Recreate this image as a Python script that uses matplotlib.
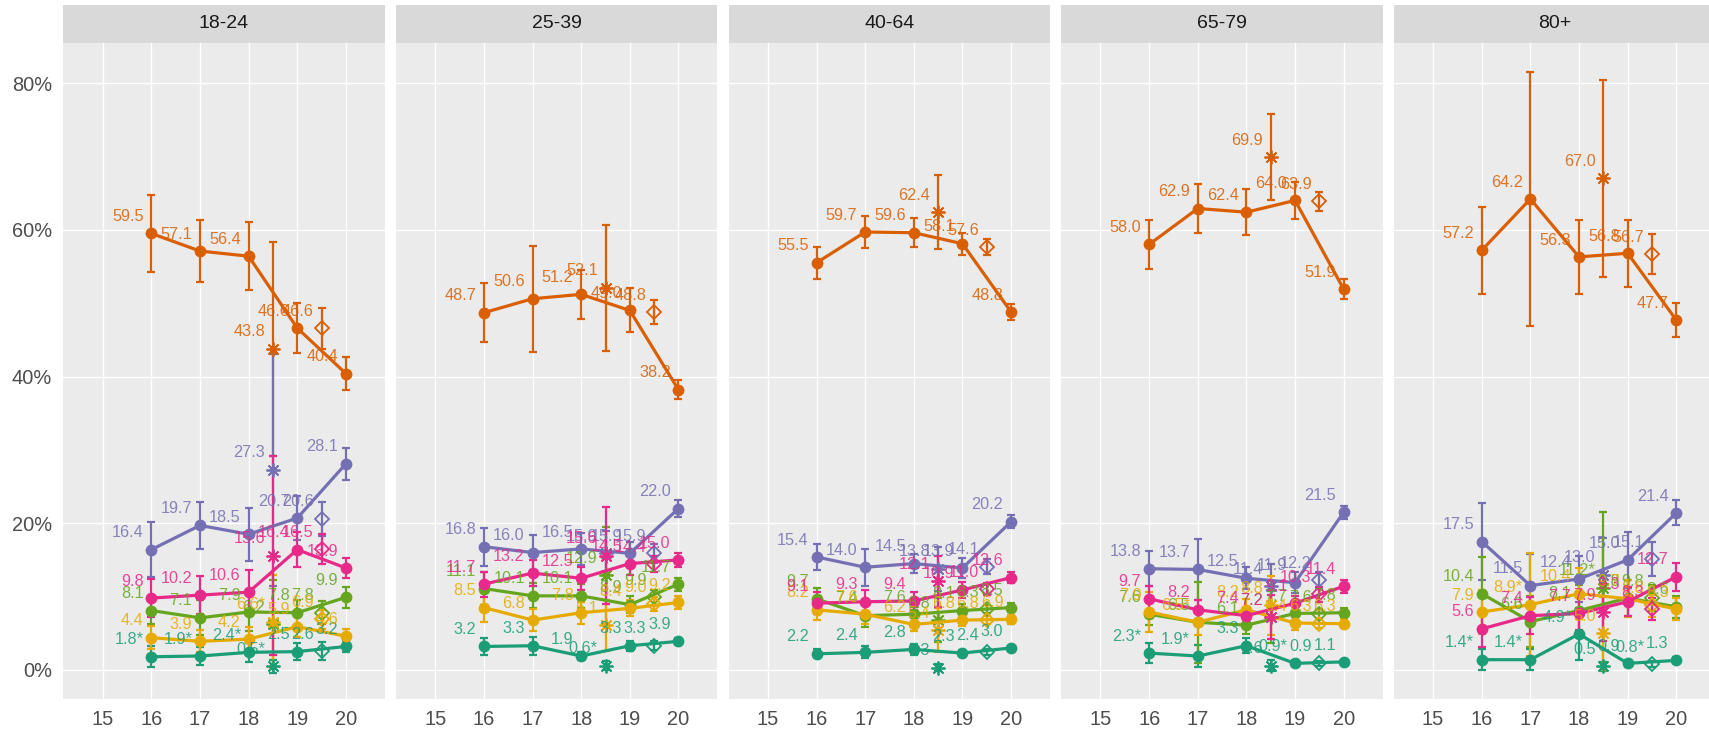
import matplotlib
matplotlib.use("Agg")
import matplotlib.pyplot as plt

plt.rcParams["font.family"] = ["Liberation Sans", "DejaVu Sans"]

groups = ["18-24", "25-39", "40-64", "65-79", "80+"]
years = [16, 17, 18, 19, 20]
x_ast = 18.5   # extra estimate drawn as asterisk
x_dia = 19.5   # extra estimate drawn as open diamond

# values per age group: 5 yearly points, plus the asterisk and diamond estimates
orange_val = [[59.5, 57.1, 56.4, 46.6, 40.4], [48.7, 50.6, 51.2, 49.0, 38.2], [55.5, 59.7, 59.6, 58.1, 48.8],
              [58.0, 62.9, 62.4, 64.0, 51.9], [57.2, 64.2, 56.3, 56.8, 47.7]]
orange_err = [[5.3, 4.2, 4.6, 3.4, 2.3], [4.0, 7.2, 3.3, 3.0, 1.3], [2.2, 2.2, 2.0, 1.5, 1.1],
              [3.4, 3.3, 3.1, 2.5, 1.4], [5.9, 17.3, 5.1, 4.6, 2.3]]
orange_ast = [43.8, 52.1, 62.4, 69.9, 67.0]
orange_ast_err = [14.6, 8.6, 5.0, 5.9, 13.4]
orange_dia = [46.6, 48.8, 57.6, 63.9, 56.7]
orange_dia_err = [2.8, 1.6, 1.1, 1.3, 2.7]

purple_val = [[16.4, 19.7, 18.5, 20.7, 28.1], [16.8, 16.0, 16.5, 15.9, 22.0], [15.4, 14.0, 14.5, 13.9, 20.2],
              [13.8, 13.7, 12.5, 11.9, 21.5], [17.5, 11.5, 12.4, 15.0, 21.4]]
purple_err = [[3.7, 3.2, 3.6, 3.0, 2.2], [2.6, 2.4, 2.2, 1.6, 1.1], [1.8, 2.5, 1.3, 1.3, 0.9],
              [2.4, 4.2, 1.5, 1.4, 0.9], [5.2, 4.3, 3.2, 3.8, 1.7]]
purple_ast = [27.3, 15.9, 13.8, 11.4, 13.0]
purple_ast_err = [15.8, 3.0, 3.0, 3.0, 5.0]
purple_dia = [20.6, 15.9, 14.1, 12.2, 15.1]
purple_dia_err = [2.3, 1.3, 1.0, 1.2, 2.3]

pink_val = [[9.8, 10.2, 10.6, 16.4, 13.9], [11.7, 13.2, 12.5, 14.5, 15.0], [9.1, 9.3, 9.4, 10.9, 12.6],
            [9.7, 8.2, 7.4, 9.1, 11.4], [5.6, 7.4, 7.7, 9.3, 12.7]]
pink_err = [[2.6, 2.6, 3.0, 2.4, 1.4], [1.7, 1.8, 1.6, 1.6, 1.0], [1.5, 1.6, 1.2, 1.1, 0.8],
            [1.7, 1.3, 1.1, 1.0, 0.9], [2.5, 2.5, 2.3, 2.0, 1.9]]
pink_ast = [15.6, 15.6, 12.1, 7.2, 7.9]
pink_ast_err = [13.6, 6.6, 3.5, 3.0, 4.0]
pink_dia = [16.5, 14.4, 11.0, 10.3, 8.3]
pink_dia_err = [2.0, 1.1, 0.8, 1.0, 1.5]

green_val = [[8.1, 7.1, 7.9, 7.8, 9.9], [11.1, 10.1, 10.1, 8.9, 11.7], [9.7, 7.4, 7.6, 8.1, 8.5],
             [7.6, 6.5, 6.1, 7.7, 7.8], [10.4, 6.6, 8.1, 9.8, 8.6]]
green_err = [[1.9, 2.4, 2.6, 1.7, 1.4], [2.2, 1.7, 1.6, 1.2, 0.9], [1.5, 1.5, 1.0, 0.9, 0.6],
             [1.5, 5.5, 1.2, 0.9, 0.6], [5.0, 3.5, 3.5, 2.5, 1.5]]
green_ast = [6.2, 12.9, 6.8, 7.2, 11.2]
green_ast_err = [6.0, 6.6, 3.0, 3.5, 10.3]
green_dia = [7.8, 9.9, 8.3, 7.6, 9.8]
green_dia_err = [1.6, 1.0, 0.6, 0.7, 1.8]

yellow_val = [[4.4, 3.9, 4.2, 5.9, 4.6], [8.5, 6.8, 7.8, 8.4, 9.2], [8.2, 7.6, 6.2, 6.8, 6.9],
              [7.9, 6.5, 8.2, 6.4, 6.3], [7.9, 8.9, 10.4, 9.7, 8.3]]
yellow_err = [[1.6, 1.5, 1.6, 1.4, 1.0], [2.0, 1.5, 1.5, 1.1, 0.9], [1.4, 1.3, 0.9, 0.8, 0.6],
              [2.7, 1.8, 1.5, 0.9, 0.6], [3.0, 7.0, 3.5, 2.5, 1.5]]
yellow_ast = [6.6, 6.1, 5.4, 8.8, 5.0]
yellow_ast_err = [6.4, 3.5, 3.0, 4.0, 5.0]
yellow_dia = [6.9, 9.0, 6.8, 6.3, 8.8]
yellow_dia_err = [1.3, 1.0, 0.6, 0.6, 1.6]

teal_val = [[1.8, 1.9, 2.4, 2.5, 3.2], [3.2, 3.3, 1.9, 3.3, 3.9], [2.2, 2.4, 2.8, 2.3, 3.0],
            [2.3, 1.9, 3.3, 0.9, 1.1], [1.4, 1.4, 4.9, 0.9, 1.3]]
teal_err = [[1.4, 1.2, 1.3, 1.2, 0.8], [1.2, 1.2, 0.6, 0.7, 0.5], [0.6, 0.8, 0.7, 0.4, 0.3],
            [1.4, 1.5, 1.0, 0.4, 0.3], [1.4, 1.4, 3.5, 0.5, 0.4]]
teal_ast = [0.5, 0.6, 0.3, 0.6, 0.5]
teal_ast_err = [0.9, 0.6, 0.5, 0.8, 0.6]
teal_dia = [2.6, 3.3, 2.4, 0.9, 0.8]
teal_dia_err = [1.2, 0.6, 0.4, 0.3, 0.4]

# estimates whose label carries a "*"
starred = {
    "teal": [("18-24", 16), ("18-24", 17), ("18-24", 18), ("18-24", 18.5), ("25-39", 18.5),
             ("65-79", 16), ("65-79", 17), ("65-79", 19), ("80+", 16), ("80+", 17), ("80+", 18), ("80+", 19.5)],
    "yellow": [("18-24", 18.5), ("65-79", 17), ("80+", 17)],
    "green": [("80+", 18.5)],
}

series = {
    "teal": ("#1B9E77", teal_val, teal_err, teal_ast, teal_ast_err, teal_dia, teal_dia_err),
    "orange": ("#D95F02", orange_val, orange_err, orange_ast, orange_ast_err, orange_dia, orange_dia_err),
    "purple": ("#7570B3", purple_val, purple_err, purple_ast, purple_ast_err, purple_dia, purple_dia_err),
    "green": ("#66A61E", green_val, green_err, green_ast, green_ast_err, green_dia, green_dia_err),
    "yellow": ("#E6AB02", yellow_val, yellow_err, yellow_ast, yellow_ast_err, yellow_dia, yellow_dia_err),
    "pink": ("#E7298A", pink_val, pink_err, pink_ast, pink_ast_err, pink_dia, pink_dia_err),
}

W, H = 1709, 733
fig = plt.figure(figsize=(W / 100, H / 100), dpi=100)

left0, pitch, pw = 63.3, 332.6, 321.5
ptop, pbot, stop = 42.7, 699.3, 5.0

for g, grp in enumerate(groups):
    x0 = left0 + g * pitch
    ax = fig.add_axes([x0 / W, (H - pbot) / H, pw / W, (pbot - ptop) / H])
    sax = fig.add_axes([x0 / W, (H - ptop) / H, pw / W, (ptop - stop) / H])
    sax.set_facecolor("#D9D9D9")
    sax.set_xticks([])
    sax.set_yticks([])
    for s in sax.spines.values():
        s.set_visible(False)
    sax.text(0.5, 0.5, grp, ha="center", va="center", fontsize=14, color="#1A1A1A",
             transform=sax.transAxes)

    ax.set_facecolor("#EBEBEB")
    for s in ax.spines.values():
        s.set_visible(False)
    ax.set_axisbelow(True)
    ax.grid(True, color="white", linewidth=1.0)
    ax.set_xlim(14.19, 20.80)
    ax.set_ylim(-4.0, 85.5)
    ax.set_xticks(range(15, 21))
    ax.set_yticks([0, 20, 40, 60, 80])
    ax.tick_params(length=0, labelsize=14.4, labelcolor="#4D4D4D", pad=8)
    if g == 0:
        ax.set_yticklabels(["0%", "20%", "40%", "60%", "80%"])
    else:
        ax.set_yticklabels([])

    for name, (c, val, err, ast, ast_err, dia, dia_err) in series.items():
        stars = [x for (gg, x) in starred.get(name, []) if gg == grp]
        ax.errorbar(years, val[g], yerr=err[g], fmt="none", ecolor=c, elinewidth=1.6,
                    capsize=2.8, capthick=1.6, zorder=3)
        ax.plot(years, val[g], color=c, linewidth=2.3, marker="o", markersize=8.5,
                markeredgewidth=0, zorder=4)
        ax.errorbar([x_ast], [ast[g]], yerr=[ast_err[g]], fmt="none", ecolor=c,
                    elinewidth=1.6, capsize=2.8, capthick=1.6, zorder=3)
        ax.plot([x_ast], [ast[g]], linestyle="none", marker=(8, 2, 0), markersize=10,
                markeredgewidth=1.3, color=c, zorder=4)
        ax.errorbar([x_dia], [dia[g]], yerr=[dia_err[g]], fmt="none", ecolor=c,
                    elinewidth=1.6, capsize=2.8, capthick=1.6, zorder=3)
        ax.plot([x_dia], [dia[g]], linestyle="none", marker="D", markersize=7,
                markerfacecolor="none", markeredgewidth=1.3, color=c, zorder=4)

        xs = years + [x_ast, x_dia]
        ys = list(val[g]) + [ast[g], dia[g]]
        for x, y in zip(xs, ys):
            lab = f"{y:.1f}" + ("*" if x in stars else "")
            ax.text(x - 0.16, y + 2.3, lab, ha="right", va="center", fontsize=11.7,
                    color=c, alpha=0.85, zorder=6)

fig.savefig("out.png", dpi=100)
